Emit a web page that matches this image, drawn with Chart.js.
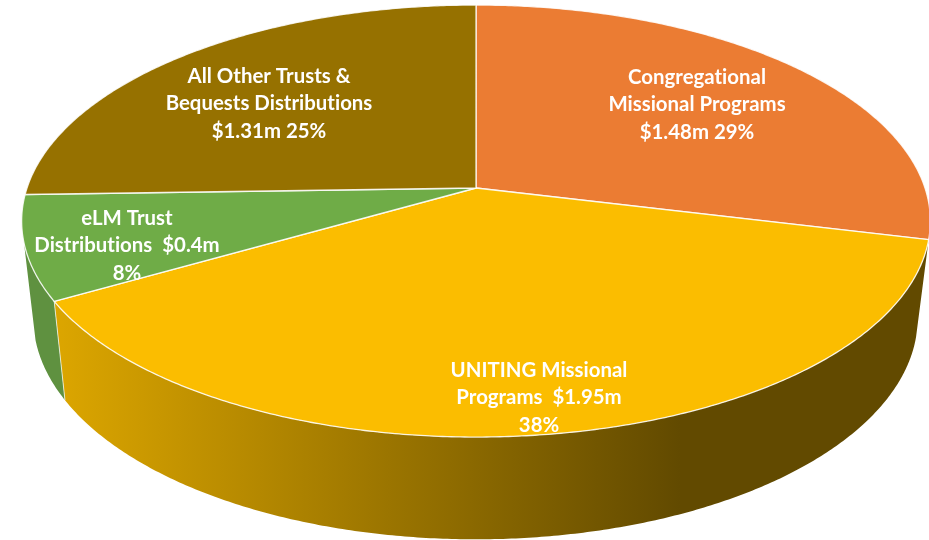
<!DOCTYPE html>
<html>
<head>
<meta charset="utf-8">
<style>html,body{margin:0;padding:0;background:#fff}canvas{display:block}</style>
<script src="https://cdn.jsdelivr.net/npm/chart.js@4"></script>
</head>
<body>
<canvas id="c" width="929" height="540"></canvas>
<script>
const categories = ['Congregational Missional Programs','UNITING Missional Programs','eLM Trust Distributions','All Other Trusts & Bequests Distributions'];
const amounts = [1.48, 1.95, 0.40, 1.31];
const sliceColors = ['#EB7C33','#FBBD00','#6FAC47','#967100'];
const sideColors = [null, 'gradient', '#5F9140', null];
const labelLines = [
  ['Congregational','Missional Programs','$1.48m 29%'],
  ['UNITING Missional','Programs  $1.95m','38%'],
  ['eLM Trust','Distributions  $0.4m','8%'],
  ['All Other Trusts &','Bequests Distributions','$1.31m 25%']
];
const labelCentres = [[697,77],[539,370],[127,218],[269,76]];
const labelLeading = 27.5;

// Perspective of the tilted disc: top face and bottom face of the cylinder
const persp = 0.153;
const topFace = {cx:476, R:449, b:188, a:182.2};
const bottomFace = {cx:475.5, R:437, b:284, a:172.8};
const sideRange = [1.809, 4.46];

function project(face, t){
  const u = Math.sin(t), v = Math.cos(t), w = 1 + persp*v;
  return [face.cx + face.R*u/w, (face.b - face.a*v)/w];
}
function rim(ctx, face, t0, t1, first){
  const n = Math.max(2, Math.ceil(Math.abs(t1-t0)*120));
  for(let i=0;i<=n;i++){
    const p = project(face, t0+(t1-t0)*i/n);
    if(i===0 && first) ctx.moveTo(p[0],p[1]); else ctx.lineTo(p[0],p[1]);
  }
}
const pie3d = {
  id:'pie3d',
  beforeDatasetDraw(chart){
    const ctx = chart.ctx, arcs = chart.getDatasetMeta(0).data;
    const ang = arcs.map(a=>[a.startAngle+Math.PI/2, a.endAngle+Math.PI/2]);
    ctx.save();
    // side walls
    arcs.forEach((a,i)=>{
      const t0 = Math.max(ang[i][0],sideRange[0]), t1 = Math.min(ang[i][1],sideRange[1]);
      if(!sideColors[i] || t1<=t0) return;
      ctx.beginPath();
      rim(ctx,topFace,t0,t1,true);
      rim(ctx,bottomFace,t1,t0,false);
      ctx.closePath();
      if(sideColors[i]==='gradient'){
        const g = ctx.createLinearGradient(55,0,680,0);
        g.addColorStop(0,'#DCA600');
        g.addColorStop(1,'#624A00');
        ctx.fillStyle = g;
      } else ctx.fillStyle = sideColors[i];
      ctx.fill();
    });
    // pale seam between the two walls
    const s0 = project(topFace, ang[2][0]), s1 = project(bottomFace, ang[2][0]);
    ctx.strokeStyle='rgba(255,255,255,0.7)'; ctx.lineWidth=1;
    ctx.beginPath(); ctx.moveTo(s0[0],s0[1]); ctx.lineTo(s1[0],s1[1]); ctx.stroke();
    // top faces
    arcs.forEach((a,i)=>{
      ctx.beginPath();
      ctx.moveTo(topFace.cx, topFace.b);
      rim(ctx,topFace,ang[i][0],ang[i][1],false);
      ctx.closePath();
      ctx.fillStyle = a.options.backgroundColor;
      ctx.fill();
      ctx.lineJoin='round';
      ctx.strokeStyle='rgba(255,255,255,0.85)';
      ctx.lineWidth=1.3;
      ctx.stroke();
    });
    ctx.restore();
    return false;
  },
  afterDatasetsDraw(chart){
    const ctx = chart.ctx;
    ctx.save();
    ctx.fillStyle='#fff';
    ctx.font='bold 20.4px Lato, "Open Sans", sans-serif';
    ctx.letterSpacing='0.01px';
    ctx.textAlign='center';
    ctx.textBaseline='middle';
    labelLines.forEach((lines,i)=>{
      lines.forEach((t,j)=>ctx.fillText(t,labelCentres[i][0],labelCentres[i][1]+j*labelLeading));
    });
    ctx.restore();
  }
};
new Chart(document.getElementById('c'),{
  type:'pie',
  data:{labels:categories,datasets:[{data:amounts,backgroundColor:sliceColors,borderWidth:0}]},
  options:{
    responsive:false,animation:false,
    plugins:{legend:{display:false},tooltip:{enabled:false}},
    layout:{padding:0}
  },
  plugins:[pie3d]
});
</script>
</body>
</html>
